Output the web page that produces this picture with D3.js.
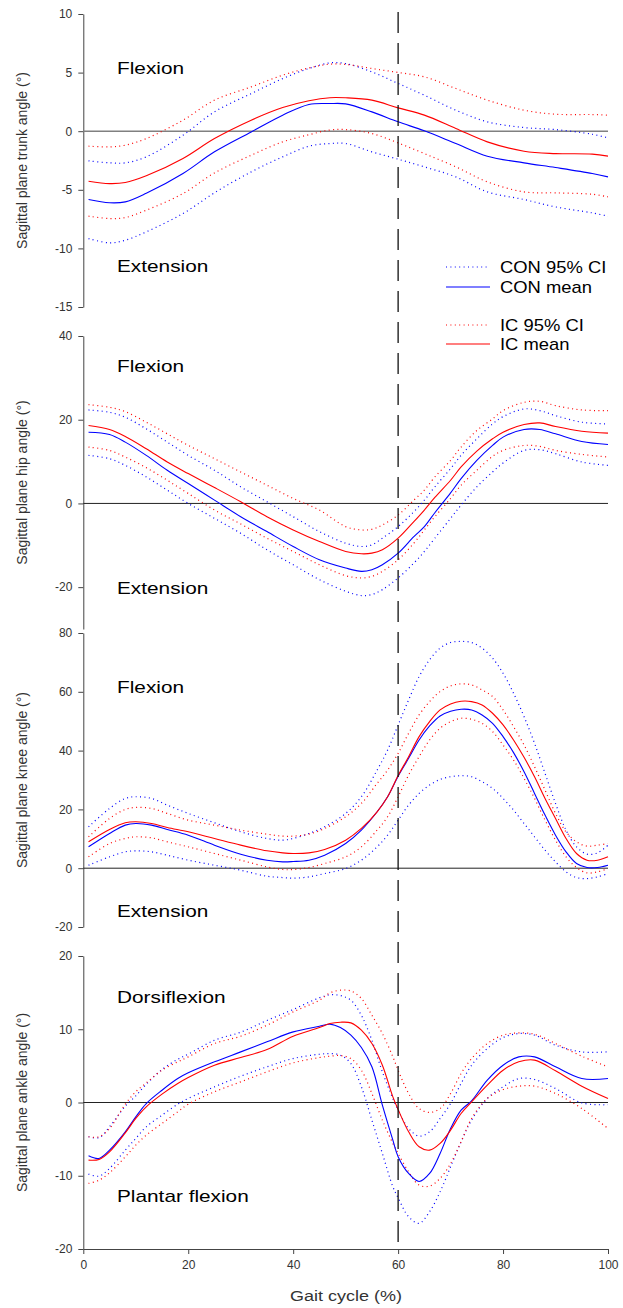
<!DOCTYPE html>
<html><head><meta charset="utf-8">
<script src="https://cdn.jsdelivr.net/npm/d3@7"></script>
<style>body{margin:0;background:#fff}svg{display:block}</style>
</head><body><svg id="c" width="623" height="1308"></svg>
<script>
// ---------------- DATA ----------------
const gaitTicks = [0, 20, 40, 60, 80, 100];
const toeOff = 60;

const trunkTicks = [10, 5, 0, -5, -10, -15];
const trunkX = [1,5,8,12,19,25,32,38,43,47,50,55,60,65,71,77,84,90,97,100];
const trunkConMean  = [-5.83,-6.11,-6.03,-5.3,-3.61,-1.76,-0.06,1.37,2.28,2.36,2.33,1.65,0.8,0.03,-1.05,-2.13,-2.7,-3.1,-3.61,-3.9];
const trunkConUpper = [-2.53,-2.7,-2.7,-2.19,-0.34,1.65,3.21,4.49,5.35,5.83,5.77,5.06,4.07,3.07,1.79,0.8,0.31,0.14,-0.26,-0.57];
const trunkConLower = [-9.16,-9.53,-9.3,-8.59,-7.02,-5.26,-3.47,-2.19,-1.28,-1.05,-1.05,-1.76,-2.39,-3.04,-3.9,-5.18,-5.83,-6.46,-6.97,-7.25];
const trunkIcMean   = [-4.27,-4.47,-4.38,-3.81,-2.33,-0.63,0.94,2.02,2.6,2.86,2.85,2.65,1.99,1.37,0.23,-0.91,-1.71,-1.91,-1.96,-2.13];
const trunkIcUpper  = [-1.28,-1.34,-1.19,-0.63,0.94,2.65,3.78,4.78,5.4,5.72,5.7,5.35,5.01,4.64,3.64,2.65,1.79,1.45,1.42,1.37];
const trunkIcLower  = [-7.25,-7.45,-7.37,-6.74,-5.32,-3.56,-2.05,-0.91,-0.3,0.1,0.14,-0.2,-1.0,-1.91,-3.04,-4.32,-5.18,-5.26,-5.38,-5.6];

const hipTicks = [40, 20, 0, -20];
const hipX = [1,5,8,12,16,20,25,30,35,40,45,50,53,55,57,60,63,65,67,70,72,75,78,80,84,87,90,95,100];
const hipConMean  = [17.02,16.47,14.65,11.48,7.92,4.75,0.79,-3.17,-6.73,-10.29,-13.46,-15.44,-16.23,-15.84,-14.65,-11.88,-7.92,-5.54,-2.22,2.53,5.94,10.29,13.86,15.84,17.66,17.66,16.63,14.81,14.09];
const hipConUpper = [22.33,21.77,20.59,17.81,14.65,11.48,7.92,3.96,0.4,-3.17,-6.73,-9.5,-10.29,-9.9,-8.31,-5.54,-1.98,0.79,3.96,8.31,11.48,15.44,19.0,20.74,22.57,22.17,20.98,19.4,19.0];
const hipConLower = [11.48,10.69,9.1,6.33,3.17,0,-3.56,-7.13,-11.08,-14.65,-18.21,-20.98,-22.01,-21.77,-20.59,-17.81,-14.25,-11.48,-8.31,-3.56,-0.4,3.96,7.52,9.66,12.67,12.83,11.88,9.9,9.1];
const hipIcMean   = [18.61,17.66,15.99,13.06,9.9,7.13,3.8,0.4,-3.17,-6.33,-9.1,-11.48,-12.03,-11.88,-11.08,-8.31,-4.35,-1.58,1.43,5.54,8.71,12.51,15.44,17.02,18.84,19.24,18.37,17.26,16.79];
const hipIcUpper  = [23.59,22.96,21.93,19.4,16.63,13.86,10.69,7.52,4.35,1.19,-1.58,-5.54,-6.33,-6.18,-5.15,-2.77,0.79,3.17,6.33,10.29,13.46,17.42,20.19,22.17,24.15,24.39,23.36,22.33,22.17];
const hipIcLower  = [13.46,12.67,11.08,8.55,5.54,2.38,-1.58,-4.91,-8.31,-11.48,-14.65,-17.26,-17.81,-17.42,-16.23,-13.46,-9.5,-6.33,-3.17,1.19,4.35,7.92,11.24,12.67,13.86,13.62,12.67,11.72,11.08];

const kneeTicks = [80, 60, 40, 20, 0, -20];
const kneeX = [1,5,8,10,13,16,20,25,30,35,38,40,43,46,50,53,56,58,60,62,64,66,68,70,72,74,76,78,80,82,84,86,88,90,92,94,96,98,100];
const kneeConMean  = [7.27,11.81,14.65,15.22,14.65,13.17,11.24,7.84,4.77,2.73,2.16,2.27,2.73,4.43,8.4,12.95,19.19,24.3,31.3,37.37,43.61,48.38,51.79,53.38,54.06,53.83,52.13,49.29,44.75,39.3,32.82,25.44,18.06,11.24,5.57,1.59,0.23,0.23,1.02];
const kneeConUpper = [14.08,20.33,23.74,24.3,23.74,21.46,18.63,15.45,12.38,10.11,9.54,10.11,11.81,14.08,18.63,24.3,33.39,40.2,48.72,57.24,65.19,70.87,74.84,76.77,77.12,76.77,74.84,71.44,66.33,59.51,51.56,42.48,32.25,22.03,12.95,7.27,4.77,5.22,7.84];
const kneeConLower = [1.02,3.86,5.57,5.91,5.57,4.43,2.73,1.02,-0.68,-2.73,-3.18,-3.41,-2.95,-1.82,-0.11,2.73,7.27,11.24,16.35,21.46,25.44,28.28,30.21,31.12,31.46,31.12,29.42,27.14,23.74,19.76,15.22,10.68,6.13,2.16,-1.25,-3.18,-3.52,-2.95,-1.82];
const kneeIcMean   = [8.97,13.17,15.45,15.79,15.22,13.86,12.38,10.11,7.84,5.91,5.22,5.0,5.22,6.36,9.54,13.52,19.19,24.3,31.5,37.93,44.75,49.86,53.83,55.88,56.79,56.67,55.54,52.7,48.72,43.61,37.71,31.12,23.74,16.92,10.11,5.0,2.73,2.73,3.86];
const kneeIcUpper  = [10.68,16.92,19.99,20.67,20.33,18.63,16.35,14.65,12.95,11.58,10.9,10.9,11.58,13.52,17.49,22.03,28.85,33.39,39.07,45.88,52.13,56.67,60.08,62.01,62.69,62.35,60.65,58.38,53.83,48.15,41.91,34.53,26.58,18.63,12.38,8.97,7.5,7.84,8.4];
const kneeIcLower  = [3.86,8.4,10.11,10.68,10.33,8.97,7.27,5.0,2.73,0.45,-0.45,-0.45,0.23,1.59,3.86,7.27,12.95,17.49,24.3,31.69,37.93,43.61,47.59,49.86,50.99,50.65,49.29,46.45,41.91,36.8,30.55,23.74,16.35,9.54,3.86,0.23,-1.59,-1.25,-0.11];

const ankleTicks = [20, 10, 0, -10, -20];
const ankleX = [1,3,5,8,10,12,15,18,20,25,30,35,40,45,47,49,51,53,55,57,59,60,62,64,66,68,70,72,74,77,80,83,86,90,95,100];
const ankleConMean  = [-7.28,-7.64,-6.5,-4.0,-1.96,-0.14,1.68,3.27,4.05,5.55,6.91,8.28,9.64,10.41,10.69,10.23,9.19,7.5,4.87,-0.36,-5.14,-7.4,-9.69,-10.78,-9.69,-6.96,-3.55,-1.05,0.23,3.05,5.09,6.23,6.23,4.87,3.27,3.27];
const ankleConUpper = [-4.68,-4.8,-3.32,-0.5,0.9,2.5,4.5,5.9,6.6,8.5,9.6,11.2,12.7,14.3,14.7,14.6,13.96,11.9,8.5,4.18,0.55,-1.05,-3.55,-4.59,-4.0,-2.18,-0.14,2.59,5.09,7.37,8.87,9.41,9.19,7.82,6.91,6.91];
const ankleConLower = [-9.78,-10.05,-9.0,-6.5,-4.91,-3.32,-1.73,-0.23,0.55,2.14,3.59,4.87,6.0,6.59,6.68,6.46,5.32,2.14,-2.41,-6.96,-11.5,-13.0,-15.6,-16.5,-14.9,-12.2,-8.78,-5.37,-2.41,0.55,2.14,3.27,3.14,1.91,-0.05,-0.3];
const ankleIcMean   = [-7.87,-7.78,-6.73,-4.14,-2.18,-0.59,1.14,2.59,3.41,5.09,6.14,7.23,9.05,10.23,10.78,10.96,10.87,9.87,8.05,5.09,0.77,-0.95,-4.0,-6.05,-6.5,-5.59,-3.77,-1.5,0.09,2.37,4.41,5.55,5.78,4.32,2.23,0.55];
const ankleIcUpper  = [-4.68,-4.68,-3.55,-0.23,1.46,2.68,4.41,5.55,6.23,8.05,9.05,10.55,12.37,13.96,14.96,15.33,15.23,14.19,11.91,9.41,6.23,4.41,1.23,-0.82,-1.36,-0.82,1.23,3.96,6.0,8.05,9.19,9.5,9.32,8.05,6.32,4.87];
const ankleIcLower  = [-11.05,-10.6,-9.6,-7.41,-5.82,-4.46,-2.86,-1.27,-0.23,1.46,2.82,4.18,5.41,6.14,6.32,6.41,6.0,4.41,1.23,-2.41,-5.59,-6.96,-9.46,-11.28,-11.41,-10.37,-8.32,-5.37,-2.18,0.55,1.77,2.23,2.23,1.23,-0.82,-3.55];

const legendLabels = ["CON 95% CI", "CON mean", "IC 95% CI", "IC mean"];

// ---------------- LAYOUT ----------------
const FONT = "'Liberation Sans', Arial, Helvetica, sans-serif";
const BLUE = "#0000ff", RED = "#ff0000";
const DOTS = "1,3.4";
const svg = d3.select("#c");
const x = d3.scaleLinear().domain([0, 100]).range([83.3, 608]);

const panels = [
  { title: "Sagittal plane trunk angle (°)", domain: [-15, 10], range: [307, 14], ticks: trunkTicks, xs: trunkX,
    con: [trunkConMean, trunkConUpper, trunkConLower], ic: [trunkIcMean, trunkIcUpper, trunkIcLower],
    labels: [["Flexion", 74], ["Extension", 272]], zeroColor: "#808080", zeroWidth: 1.6 },
  { title: "Sagittal plane hip angle (°)", domain: [-30, 40], range: [629, 336], ticks: hipTicks, xs: hipX,
    con: [hipConMean, hipConUpper, hipConLower], ic: [hipIcMean, hipIcUpper, hipIcLower],
    labels: [["Flexion", 372], ["Extension", 594]], zeroColor: "#222", zeroWidth: 1 },
  { title: "Sagittal plane knee angle (°)", domain: [-20, 80], range: [927, 633], ticks: kneeTicks, xs: kneeX,
    con: [kneeConMean, kneeConUpper, kneeConLower], ic: [kneeIcMean, kneeIcUpper, kneeIcLower],
    labels: [["Flexion", 693], ["Extension", 917]], zeroColor: "#222", zeroWidth: 1 },
  { title: "Sagittal plane ankle angle (°)", domain: [-20, 20], range: [1249, 956], ticks: ankleTicks, xs: ankleX,
    con: [ankleConMean, ankleConUpper, ankleConLower], ic: [ankleIcMean, ankleIcUpper, ankleIcLower],
    labels: [["Dorsiflexion", 1003], ["Plantar flexion", 1202]], zeroColor: "#222", zeroWidth: 1, xAxis: true }
];

panels.forEach(p => {
  const y = d3.scaleLinear().domain(p.domain).range(p.range);
  const g = svg.append("g");

  // y axis
  const ax = g.append("g").attr("transform", `translate(${x(0)},0)`)
    .call(d3.axisLeft(y).tickValues(p.ticks).tickSize(5).tickSizeOuter(0).tickPadding(6).tickFormat(d => String(d)));
  ax.select(".domain").attr("stroke", "#444");
  ax.selectAll(".tick line").attr("stroke", "#444");
  ax.selectAll("text").attr("font-family", FONT).attr("font-size", 12).attr("fill", "#333");

  // y title
  const cy = (p.range[0] + p.range[1]) / 2;
  g.append("text").attr("transform", `translate(27,${cy}) rotate(-90)`)
    .attr("text-anchor", "middle").attr("font-family", FONT).attr("font-size", 14).attr("fill", "#333")
    .text(p.title);

  // zero line
  g.append("line").attr("x1", x(0)).attr("x2", x(100)).attr("y1", y(0)).attr("y2", y(0))
    .attr("stroke", p.zeroColor).attr("stroke-width", p.zeroWidth);

  const line = arr => d3.line().x((d, i) => x(p.xs[i])).y(d => y(d)).curve(d3.curveCatmullRom.alpha(0.5))(arr);
  const drawSet = (set, color) => {
    [set[1], set[2]].forEach(arr => g.append("path").attr("d", line(arr)).attr("fill", "none")
      .attr("stroke", color).attr("stroke-width", 1.2).attr("stroke-dasharray", DOTS));
  };
  drawSet(p.con, BLUE);
  drawSet(p.ic, RED);
  g.append("path").attr("d", line(p.con[0])).attr("fill", "none").attr("stroke", BLUE).attr("stroke-width", 1.1);
  g.append("path").attr("d", line(p.ic[0])).attr("fill", "none").attr("stroke", RED).attr("stroke-width", 1.1);

  // annotations
  p.labels.forEach(([t, by]) => {
    g.append("text").attr("transform", `translate(117,${by}) scale(1.3,1)`)
      .attr("font-family", FONT).attr("font-size", 16).attr("fill", "#000").text(t);
  });

  if (p.xAxis) {
    const xa = g.append("g").attr("transform", `translate(0,${y(p.domain[0])})`)
      .call(d3.axisBottom(x).tickValues(gaitTicks).tickSize(5).tickSizeOuter(0).tickPadding(6));
    xa.select(".domain").attr("stroke", "#444");
    xa.selectAll(".tick line").attr("stroke", "#444");
    xa.selectAll("text").attr("font-family", FONT).attr("font-size", 12).attr("fill", "#333");
    g.append("text").attr("transform", `translate(346,1301) scale(1.2,1)`).attr("text-anchor", "middle")
      .attr("font-family", FONT).attr("font-size", 15).attr("fill", "#333").text("Gait cycle (%)");
  }
});

// toe-off dashed line
svg.append("line").attr("x1", x(toeOff)).attr("x2", x(toeOff)).attr("y1", 12).attr("y2", 1249)
  .attr("stroke", "#111").attr("stroke-width", 1.3).attr("stroke-dasharray", "21,10");

// legend
const legRows = [267, 287, 325, 344];
const legStyle = [[BLUE, true], [BLUE, false], [RED, true], [RED, false]];
const leg = svg.append("g");
legendLabels.forEach((t, i) => {
  const [c, dotted] = legStyle[i];
  leg.append("line").attr("x1", 446).attr("x2", 490).attr("y1", legRows[i]).attr("y2", legRows[i])
    .attr("stroke", c).attr("stroke-width", 1.2).attr("stroke-dasharray", dotted ? DOTS : null);
  leg.append("text").attr("transform", `translate(500,${legRows[i] + 5.5}) scale(1.15,1)`)
    .attr("font-family", FONT).attr("font-size", 16).attr("fill", "#000").text(t);
});
</script></body></html>
